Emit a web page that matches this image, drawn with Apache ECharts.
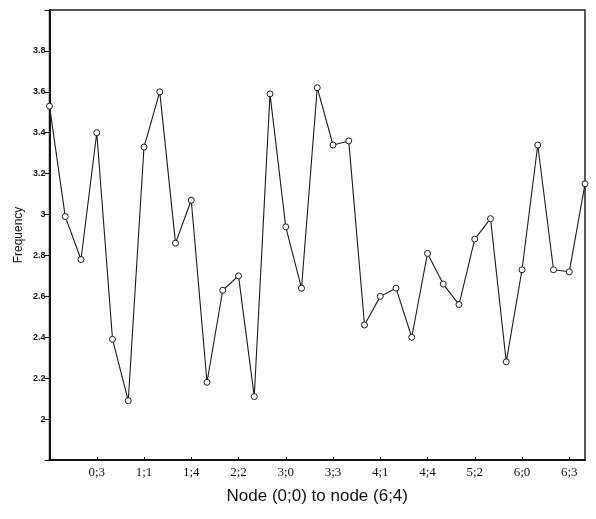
<!DOCTYPE html>
<html>
<head>
<meta charset="utf-8">
<script src="https://cdn.jsdelivr.net/npm/echarts@6/dist/echarts.min.js"></script>
<style>html,body{margin:0;padding:0;background:#fff;}#c{width:596px;height:519px;}</style>
</head>
<body>
<div id="c"></div>
<script>
// Node labels (i;j), i = 0..6, j = 0..4
var nodes = [
  '0;0','0;1','0;2','0;3','0;4',
  '1;0','1;1','1;2','1;3','1;4',
  '2;0','2;1','2;2','2;3','2;4',
  '3;0','3;1','3;2','3;3','3;4',
  '4;0','4;1','4;2','4;3','4;4',
  '5;0','5;1','5;2','5;3','5;4',
  '6;0','6;1','6;2','6;3','6;4'
];
var frequency = [
  3.53, 2.99, 2.78, 3.40, 2.39,
  2.09, 3.33, 3.60, 2.86, 3.07,
  2.18, 2.63, 2.70, 2.11, 3.59,
  2.94, 2.64, 3.62, 3.34, 3.36,
  2.46, 2.60, 2.64, 2.40, 2.81,
  2.66, 2.56, 2.88, 2.98, 2.28,
  2.73, 3.34, 2.73, 2.72, 3.15
];
var yTickLabels = ['2','2.2','2.4','2.6','2.8','3','3.2','3.4','3.6','3.8'];

var chart = echarts.init(document.getElementById('c'), null, {renderer: 'canvas'});
chart.setOption({
  animation: false,
  backgroundColor: '#fff',
  grid: {left: 49.5, right: 11, top: 10, bottom: 59, show: true, borderColor: '#222', borderWidth: 1.5, backgroundColor: 'transparent'},
  xAxis: {
    type: 'category',
    data: nodes,
    boundaryGap: false,
    name: 'Node (0;0) to node (6;4)',
    nameLocation: 'middle',
    nameGap: 28,
    nameMoveOverlap: false,
    nameTextStyle: {fontFamily: 'Liberation Sans', fontSize: 17, color: '#111'},
    axisLine: {lineStyle: {color: '#111', width: 2}},
    axisTick: {show: true, inside: true, length: 3, interval: 2, lineStyle: {color: '#111'}},
    axisLabel: {
      interval: function (i) { return i > 0 && i % 3 === 0; },
      fontFamily: 'Liberation Serif', fontSize: 13, color: '#111', margin: 6
    },
    splitLine: {show: false}
  },
  yAxis: {
    type: 'value',
    min: 1.8, max: 4.0, interval: 0.2,
    name: 'Frequency',
    nameLocation: 'middle',
    nameGap: 25,
    nameMoveOverlap: false,
    nameRotate: 90,
    nameTextStyle: {fontFamily: 'Liberation Sans', fontSize: 12, color: '#111'},
    axisLine: {show: true, lineStyle: {color: '#111', width: 2}},
    axisTick: {show: true, length: 5, lineStyle: {color: '#111'}},
    axisLabel: {
      fontFamily: 'Liberation Sans', fontSize: 9, fontWeight: 'bold', color: '#111', margin: 4,
      formatter: function (v) {
        var s = (Math.round(v * 10) / 10).toString();
        return yTickLabels.indexOf(s) >= 0 ? s : '';
      }
    },
    splitLine: {show: false}
  },
  series: [{
    type: 'line',
    data: frequency,
    symbol: 'circle',
    symbolSize: 6,
    showAllSymbol: true,
    lineStyle: {color: '#1a1a1a', width: 1.1},
    itemStyle: {color: '#fff', borderColor: '#1a1a1a', borderWidth: 1}
  }]
});
</script>
</body>
</html>
